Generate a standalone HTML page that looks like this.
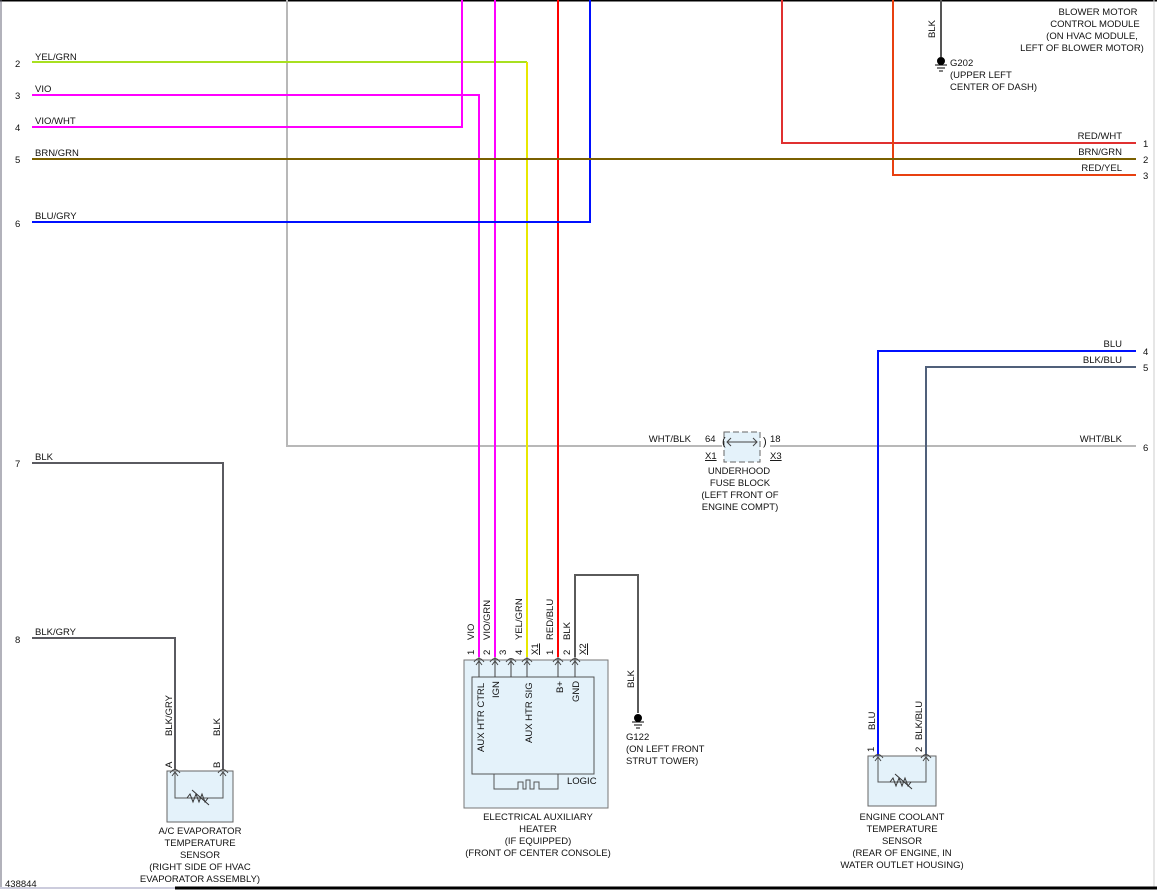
<!DOCTYPE html>
<html><head><meta charset="utf-8"><style>
html,body{margin:0;padding:0;background:#fff;}
svg{display:block;}
text{font-family:"Liberation Sans",sans-serif;font-size:9.5px;fill:#111;}
.c{text-anchor:middle;}
.r{text-anchor:end;}
</style></head><body>
<svg width="1157" height="890" viewBox="0 0 1157 890" xmlns="http://www.w3.org/2000/svg">
<rect x="0" y="0" width="1157" height="890" fill="#fff"/>
<line x1="0" y1="0.5" x2="1157" y2="0.5" stroke="#000" stroke-width="2"/>
<line x1="1" y1="0" x2="1" y2="888" stroke="#667" stroke-width="1"/>
<line x1="1154" y1="0" x2="1154" y2="888" stroke="#ccc" stroke-width="1"/>
<line x1="175" y1="888" x2="1157" y2="888" stroke="#000" stroke-width="3"/>
<line x1="0" y1="888" x2="175" y2="888" stroke="#ccd" stroke-width="2"/>

<g fill="none" stroke-width="2">
<!-- grey WHT/BLK -->
<polyline points="287,0 287,446 722,446" stroke="#b8b8b8"/>
<line x1="770" y1="446" x2="1136" y2="446" stroke="#b8b8b8"/>
<!-- YEL/GRN -->
<polyline points="32,62 527,62" stroke="#a8e020"/>
<polyline points="527,62 527,657" stroke="#e8e800"/>
<!-- VIO -->
<polyline points="32,95 479,95 479,657" stroke="#ff00ff"/>
<!-- VIO/WHT -->
<polyline points="32,127 462,127 462,0" stroke="#ff00ff"/>
<!-- VIO/GRN -->
<line x1="495" y1="0" x2="495" y2="657" stroke="#ff00ff"/>
<!-- RED/BLU -->
<line x1="558" y1="0" x2="558" y2="657" stroke="#ff0000"/>
<!-- BLU/GRY -->
<polyline points="32,222 590,222 590,0" stroke="#0010ff"/>
<!-- RED/WHT -->
<polyline points="782,0 782,143 1136,143" stroke="#e03030"/>
<!-- RED/YEL -->
<polyline points="893,0 893,175 1136,175" stroke="#e84010"/>
<!-- BRN/GRN -->
<line x1="32" y1="159" x2="1136" y2="159" stroke="#7a6000"/>
<!-- BLK to G202 -->
<line x1="941" y1="0" x2="941" y2="57" stroke="#555"/>
<!-- BLU -->
<polyline points="1136,351 878,351 878,757" stroke="#0010ff"/>
<!-- BLK/BLU -->
<polyline points="1136,367 926,367 926,757" stroke="#50607a"/>
<!-- BLK row7 -->
<polyline points="32,463 223,463 223,770" stroke="#5a5a60"/>
<!-- BLK/GRY row8 -->
<polyline points="32,638 175,638 175,770" stroke="#5a5a60"/>
<!-- heater BLK to G122 -->
<polyline points="575,657 575,575 638,575 638,713" stroke="#5a5a5a"/>
</g>

<!-- ground symbols -->
<g stroke="#000" fill="#000">
<circle cx="941" cy="61" r="3.5"/>
<line x1="935" y1="65" x2="947" y2="65"/><line x1="937" y1="68" x2="945" y2="68"/><line x1="939" y1="71" x2="943" y2="71"/>
<circle cx="638" cy="718" r="3.5"/>
<line x1="632" y1="722" x2="644" y2="722"/><line x1="634" y1="725" x2="642" y2="725"/><line x1="636" y1="728" x2="640" y2="728"/>
</g>

<!-- left labels -->
<text x="35" y="60">YEL/GRN</text><text x="15" y="67">2</text>
<text x="35" y="92">VIO</text><text x="15" y="99">3</text>
<text x="35" y="124">VIO/WHT</text><text x="15" y="131">4</text>
<text x="35" y="156">BRN/GRN</text><text x="15" y="163">5</text>
<text x="35" y="219">BLU/GRY</text><text x="15" y="227">6</text>
<text x="35" y="460">BLK</text><text x="15" y="467">7</text>
<text x="35" y="635">BLK/GRY</text><text x="15" y="643">8</text>
<text x="5" y="887">438844</text>

<!-- right labels -->
<text class="r" x="1122" y="139">RED/WHT</text><text x="1143" y="147">1</text>
<text class="r" x="1122" y="155">BRN/GRN</text><text x="1143" y="163">2</text>
<text class="r" x="1122" y="171">RED/YEL</text><text x="1143" y="179">3</text>
<text class="r" x="1122" y="347">BLU</text><text x="1143" y="355">4</text>
<text class="r" x="1122" y="363">BLK/BLU</text><text x="1143" y="371">5</text>
<text class="r" x="1122" y="442">WHT/BLK</text><text x="1143" y="451">6</text>

<!-- blower motor -->
<text class="c" x="1098" y="15">BLOWER MOTOR</text>
<text class="c" x="1095" y="27">CONTROL MODULE</text>
<text class="c" x="1092" y="39">(ON HVAC MODULE,</text>
<text class="c" x="1082" y="51">LEFT OF BLOWER MOTOR)</text>
<text transform="translate(935,38) rotate(-90)">BLK</text>
<text x="950" y="66">G202</text>
<text x="950" y="78">(UPPER LEFT</text>
<text x="950" y="90">CENTER OF DASH)</text>

<!-- fuse block -->
<rect x="724" y="432" width="36" height="30" fill="#e4f2fa" stroke="#666" stroke-dasharray="6,3"/>
<line x1="727" y1="442" x2="757" y2="442" stroke="#444"/>
<polyline points="731,438 727,442 731,446" fill="none" stroke="#444"/>
<polyline points="753,438 757,442 753,446" fill="none" stroke="#444"/>
<text x="722" y="445" style="font-size:11px">(</text>
<text x="763" y="445" style="font-size:11px">)</text>
<text class="r" x="691" y="442">WHT/BLK</text>
<text x="705" y="442">64</text>
<text x="705" y="459" style="text-decoration:underline">X1</text>
<text x="770" y="442">18</text>
<text x="770" y="459" style="text-decoration:underline">X3</text>
<text class="c" x="739" y="474">UNDERHOOD</text>
<text class="c" x="740" y="486">FUSE BLOCK</text>
<text class="c" x="740" y="498">(LEFT FRONT OF</text>
<text class="c" x="740" y="510">ENGINE COMPT)</text>

<!-- heater -->
<rect x="464" y="660" width="144" height="148" fill="#e4f2fa" stroke="#777"/>
<rect x="472" y="677" width="122" height="97" fill="#e4f2fa" stroke="#555"/>
<polyline points="494,774 494,789 518,789 518,782 523,782 523,789 526,789 526,780 530,780 530,789 534,789 534,782 539,782 539,789 558,789 558,774" fill="none" stroke="#555"/>
<text x="567" y="784">LOGIC</text>
<g stroke="#444" fill="none">
<path d="M474,662 q5,-7 10,0 M490,662 q5,-7 10,0 M506,662 q5,-7 10,0 M522,662 q5,-7 10,0 M553,662 q5,-7 10,0 M570,662 q5,-7 10,0"/>
<line x1="479" y1="657" x2="479" y2="677"/><line x1="495" y1="657" x2="495" y2="677"/><line x1="511" y1="659" x2="511" y2="677"/><line x1="527" y1="657" x2="527" y2="677"/><line x1="558" y1="657" x2="558" y2="677"/><line x1="575" y1="657" x2="575" y2="677"/>
<path d="M476,665 l3,-4 l3,4 M492,665 l3,-4 l3,4 M508,665 l3,-4 l3,4 M524,665 l3,-4 l3,4 M555,665 l3,-4 l3,4 M572,665 l3,-4 l3,4"/>
</g>
<text transform="translate(474,655) rotate(-90)">1</text>
<text transform="translate(474,640) rotate(-90)">VIO</text>
<text transform="translate(490,655) rotate(-90)">2</text>
<text transform="translate(490,640) rotate(-90)">VIO/GRN</text>
<text transform="translate(506,655) rotate(-90)">3</text>
<text transform="translate(522,655) rotate(-90)">4</text>
<text transform="translate(522,640) rotate(-90)">YEL/GRN</text>
<text transform="translate(538,655) rotate(-90)" style="text-decoration:underline">X1</text>
<text transform="translate(553,655) rotate(-90)">1</text>
<text transform="translate(553,640) rotate(-90)">RED/BLU</text>
<text transform="translate(570,655) rotate(-90)">2</text>
<text transform="translate(570,640) rotate(-90)">BLK</text>
<text transform="translate(586,655) rotate(-90)" style="text-decoration:underline">X2</text>
<text transform="translate(484,752) rotate(-90)">AUX HTR CTRL</text>
<text transform="translate(499,698) rotate(-90)">IGN</text>
<text transform="translate(532,743) rotate(-90)">AUX HTR SIG</text>
<text transform="translate(563,693) rotate(-90)">B+</text>
<text transform="translate(579,702) rotate(-90)">GND</text>
<text class="c" x="538" y="820">ELECTRICAL AUXILIARY</text>
<text class="c" x="538" y="832">HEATER</text>
<text class="c" x="538" y="844">(IF EQUIPPED)</text>
<text class="c" x="538" y="856">(FRONT OF CENTER CONSOLE)</text>
<text transform="translate(634,688) rotate(-90)">BLK</text>
<text x="626" y="740">G122</text>
<text x="626" y="752">(ON LEFT FRONT</text>
<text x="626" y="764">STRUT TOWER)</text>

<!-- A/C evaporator sensor -->
<rect x="167" y="771" width="66" height="51" fill="#e4f2fa" stroke="#666"/>
<polyline points="175,773 175,798 223,798 223,773" fill="none" stroke="#555"/>
<path d="M187,798 l3,-4 l3,8 l3,-8 l3,8 l3,-8 l3,8 l3,-4" fill="none" stroke="#333"/>
<line x1="192" y1="790" x2="209" y2="805" stroke="#333"/>
<path d="M170,773 q5,-7 10,0 M218,773 q5,-7 10,0" fill="none" stroke="#444"/>
<path d="M172,776 l3,-4 l3,4 M220,776 l3,-4 l3,4" fill="none" stroke="#444"/>
<text transform="translate(172,768) rotate(-90)">A</text>
<text transform="translate(220,768) rotate(-90)">B</text>
<text transform="translate(172,736) rotate(-90)">BLK/GRY</text>
<text transform="translate(220,736) rotate(-90)">BLK</text>
<text class="c" x="200" y="834">A/C EVAPORATOR</text>
<text class="c" x="200" y="846">TEMPERATURE</text>
<text class="c" x="200" y="858">SENSOR</text>
<text class="c" x="200" y="870">(RIGHT SIDE OF HVAC</text>
<text class="c" x="200" y="882">EVAPORATOR ASSEMBLY)</text>

<!-- ECT sensor -->
<rect x="868" y="756" width="68" height="50" fill="#e4f2fa" stroke="#666"/>
<polyline points="878,758 878,782 926,782 926,758" fill="none" stroke="#555"/>
<path d="M890,782 l3,-4 l3,8 l3,-8 l3,8 l3,-8 l3,8 l3,-4" fill="none" stroke="#333"/>
<line x1="895" y1="774" x2="912" y2="789" stroke="#333"/>
<path d="M873,758 q5,-7 10,0 M921,758 q5,-7 10,0" fill="none" stroke="#444"/>
<path d="M875,761 l3,-4 l3,4 M923,761 l3,-4 l3,4" fill="none" stroke="#444"/>
<text transform="translate(874,752) rotate(-90)">1</text>
<text transform="translate(922,752) rotate(-90)">2</text>
<text transform="translate(875,730) rotate(-90)">BLU</text>
<text transform="translate(922,740) rotate(-90)">BLK/BLU</text>
<text class="c" x="902" y="820">ENGINE COOLANT</text>
<text class="c" x="902" y="832">TEMPERATURE</text>
<text class="c" x="902" y="844">SENSOR</text>
<text class="c" x="902" y="856">(REAR OF ENGINE, IN</text>
<text class="c" x="902" y="868">WATER OUTLET HOUSING)</text>
</svg>
</body></html>
